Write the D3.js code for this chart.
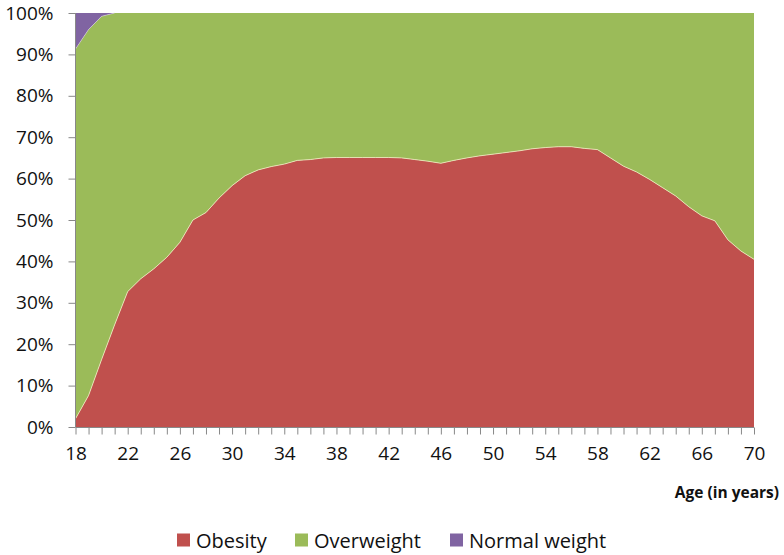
<!DOCTYPE html>
<html><head><meta charset="utf-8">
<script src="https://cdn.jsdelivr.net/npm/d3@7"></script>
<style>html,body{margin:0;padding:0;background:#fff;}svg{display:block;}</style>
</head><body>
<svg id="c" width="784" height="555"></svg>
<script>
const ages = d3.range(18, 71);
const obesity = [2.0,7.6,16.3,24.7,32.7,35.8,38.2,41.0,44.6,50.0,51.8,55.3,58.3,60.7,62.1,62.9,63.5,64.4,64.6,65.0,65.1,65.1,65.1,65.1,65.1,65.0,64.6,64.2,63.7,64.4,65.0,65.5,65.9,66.3,66.7,67.2,67.5,67.7,67.7,67.3,67.0,65.0,63.0,61.6,59.8,57.8,55.8,53.2,51.0,49.8,45.2,42.5,40.5];
const overweight = [89.3,88.4,82.9,75.3,67.3,64.2,61.8,59.0,55.4,50.0,48.2,44.7,41.7,39.3,37.9,37.1,36.5,35.6,35.4,35.0,34.9,34.9,34.9,34.9,34.9,35.0,35.4,35.8,36.3,35.6,35.0,34.5,34.1,33.7,33.3,32.8,32.5,32.3,32.3,32.7,33.0,35.0,37.0,38.4,40.2,42.2,44.2,46.8,49.0,50.2,54.8,57.5,59.5];
const normal = [8.7,4.0,0.8,0,0,0,0,0,0,0,0,0,0,0,0,0,0,0,0,0,0,0,0,0,0,0,0,0,0,0,0,0,0,0,0,0,0,0,0,0,0,0,0,0,0,0,0,0,0,0,0,0,0];
const seriesNames = ["Obesity","Overweight","Normal weight"];
const colors = ["#C0504D","#9BBB59","#8064A2"];
const yTicks = [0,0.1,0.2,0.3,0.4,0.5,0.6,0.7,0.8,0.9,1];
const xLabelTicks = d3.range(18, 71, 4);

const svg = d3.select("#c");
const x = d3.scaleLinear().domain([18,70]).range([75.5,754]);
const y = d3.scaleLinear().domain([0,1]).range([427,13]);

const rows = ages.map((a,i)=>({age:a,"Obesity":obesity[i],"Overweight":overweight[i],"Normal weight":normal[i]}));
const stack = d3.stack().keys(seriesNames).offset(d3.stackOffsetExpand);
const series = stack(rows);

const area = d3.area().x(d=>x(d.data.age)).y0(d=>y(d[0])).y1(d=>y(d[1]));
svg.append("g").selectAll("path").data(series).join("path")
  .attr("d", area).attr("fill",(d,i)=>colors[i]);
const edge = d3.line().x(d=>x(d.data.age)).y(d=>y(d[1]));
svg.append("path").datum(series[0]).attr("d",edge)
  .attr("fill","none").attr("stroke","#f0ecc0").attr("stroke-width",1).attr("opacity",0.8);
svg.append("path").datum(series[1].filter((d,i)=>i<4)).attr("d",edge)
  .attr("fill","none").attr("stroke","#e8e0f0").attr("stroke-width",0.8).attr("opacity",0.6);

const font = "'Open Sans', sans-serif";
const yAxis = d3.axisLeft(y).tickValues(yTicks).tickFormat(d3.format(".0%")).tickSize(7).tickPadding(15);
const gy = svg.append("g").attr("transform","translate(75.5,0)").call(yAxis);
gy.select(".domain").attr("stroke","#888").attr("d","M0,13V427");
gy.selectAll(".tick line").attr("stroke","#888");
gy.selectAll("text").attr("font-family",font).attr("font-size",19).attr("fill","#111");

const xMinor = d3.axisBottom(x).tickValues(ages).tickFormat("").tickSize(7);
const gxm = svg.append("g").attr("transform","translate(0,427.5)").call(xMinor);
gxm.select(".domain").attr("stroke","#888").attr("d","M75.5,0H754");
gxm.selectAll(".tick line").attr("stroke","#888");
const xAxis = d3.axisBottom(x).tickValues(xLabelTicks).tickFormat(d3.format("d")).tickSize(0).tickPadding(19);
const gx = svg.append("g").attr("transform","translate(0,427.5)").call(xAxis);
gx.select(".domain").remove();
gx.selectAll("text").attr("font-family",font).attr("font-size",19).attr("fill","#111");

svg.append("text").attr("x",779).attr("y",498).attr("text-anchor","end")
  .attr("font-family",font).attr("font-size",15.5).attr("font-weight","bold").attr("fill","#111")
  .text("Age (in years)");

const legX = [177,295,450];
const leg = svg.append("g").selectAll("g").data(seriesNames).join("g")
  .attr("transform",(d,i)=>`translate(${legX[i]},0)`);
leg.append("rect").attr("x",0).attr("y",533.5).attr("width",13).attr("height",13).attr("fill",(d,i)=>colors[i]);
leg.append("text").attr("x",19).attr("y",547.5).attr("font-family",font).attr("font-size",20).attr("fill","#111").text(d=>d);
</script>
</body></html>
